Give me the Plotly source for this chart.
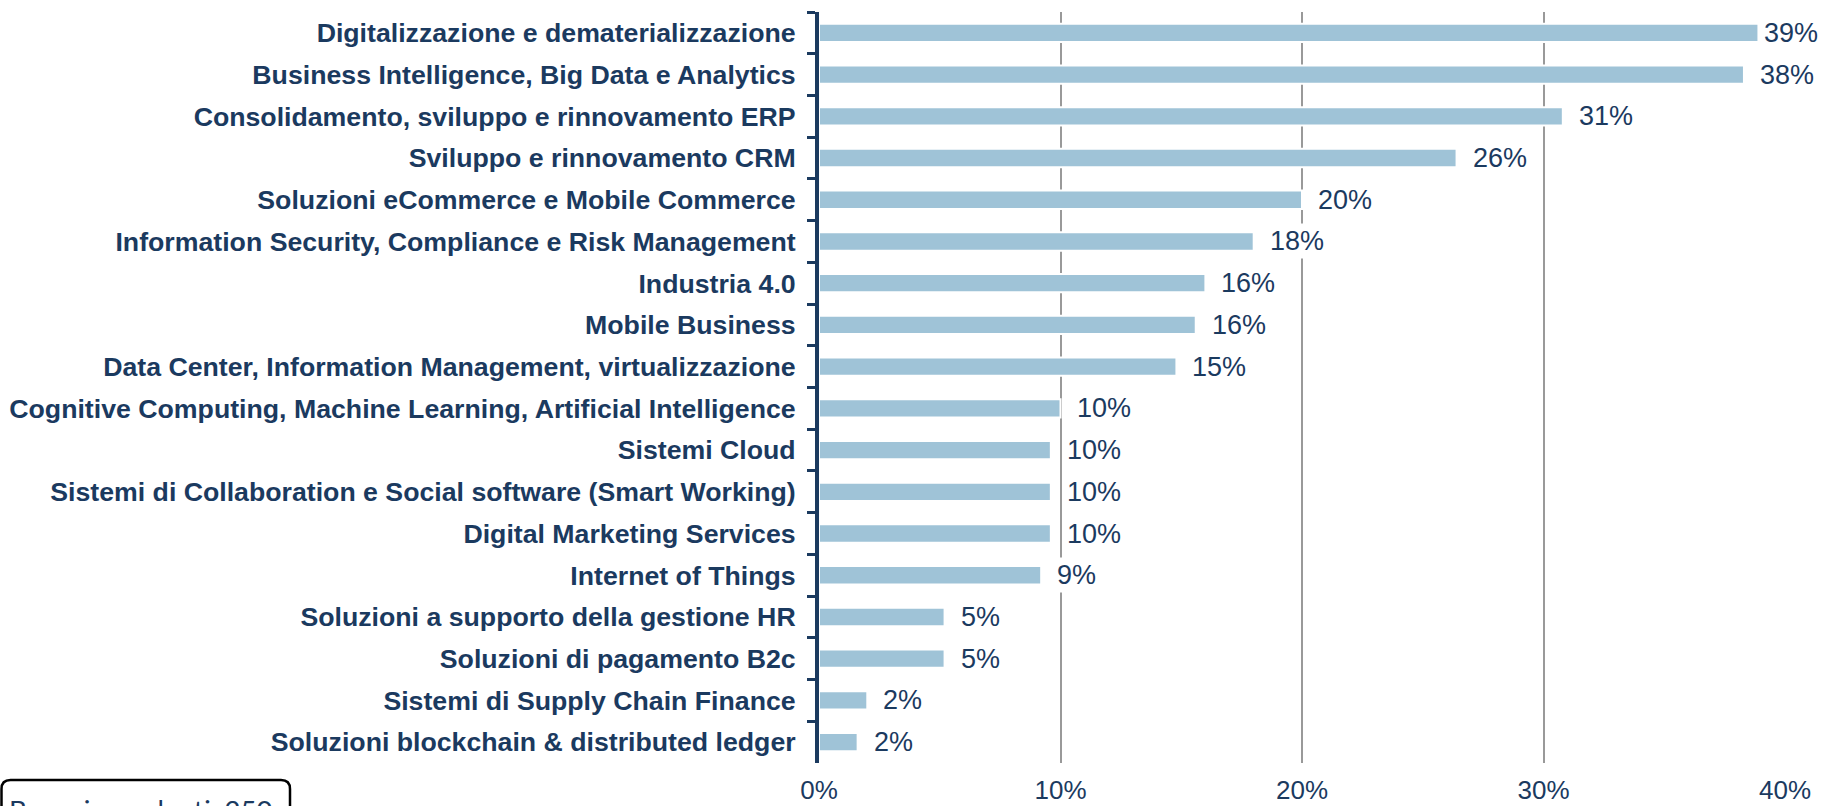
import plotly.graph_objects as go

categories = [
    "Digitalizzazione e dematerializzazione",
    "Business Intelligence, Big Data e Analytics",
    "Consolidamento, sviluppo e rinnovamento ERP",
    "Sviluppo e rinnovamento CRM",
    "Soluzioni eCommerce e Mobile Commerce",
    "Information Security, Compliance e Risk Management",
    "Industria 4.0",
    "Mobile Business",
    "Data Center, Information Management, virtualizzazione",
    "Cognitive Computing, Machine Learning, Artificial Intelligence",
    "Sistemi Cloud",
    "Sistemi di Collaboration e Social software (Smart Working)",
    "Digital Marketing Services",
    "Internet of Things",
    "Soluzioni a supporto della gestione HR",
    "Soluzioni di pagamento B2c",
    "Sistemi di Supply Chain Finance",
    "Soluzioni blockchain & distributed ledger",
]
values = [0.389, 0.383, 0.308, 0.264, 0.200, 0.180, 0.160, 0.156, 0.148,
          0.100, 0.096, 0.096, 0.096, 0.092, 0.052, 0.052, 0.020, 0.016]
labels = ["39%", "38%", "31%", "26%", "20%", "18%", "16%", "16%", "15%",
          "10%", "10%", "10%", "10%", "9%", "5%", "5%", "2%", "2%"]
x_ticks = [0, 0.1, 0.2, 0.3, 0.4]
x_tick_labels = ["0%", "10%", "20%", "30%", "40%"]
note = "Base rispondenti: 250"

NAVY = "#1b3a5f"
BAR = "#9fc3d7"
FONT = "Liberation Sans, Arial"

fig = go.Figure()
fig.add_trace(go.Bar(
    x=values, y=categories, orientation="h",
    marker=dict(color=BAR, line=dict(color="white", width=2)),
    hoverinfo="skip",
))

for i, (v, c, t) in enumerate(zip(values, categories, labels)):
    fig.add_annotation(
        x=v, y=c, xref="x", yref="y", text=t, showarrow=False,
        xanchor="left", yanchor="middle", xshift=3 if i == 0 else 13,
        font=dict(family=FONT, size=27, color=NAVY),
        bgcolor="white", borderpad=2,
    )

W, H = 1827, 806
L, R, T, B = 819, 42, 12, 43
pw, ph = W - L - R, H - T - B

def px(xp):
    return (xp - L) / pw

def py(yp):
    return (H - B - yp) / ph

x0, x1 = px(1.5), px(290)
yt, yb = py(780), py(830)
rx, ry = 9 / pw, 9 / ph
path = (f"M {x0},{yb} L {x0},{yt - ry} Q {x0},{yt} {x0 + rx},{yt} "
        f"L {x1 - rx},{yt} Q {x1},{yt} {x1},{yt - ry} L {x1},{yb}")
fig.add_shape(type="path", path=path, xref="paper", yref="paper",
              line=dict(color="black", width=2.5), fillcolor="rgba(0,0,0,0)")
fig.add_annotation(
    x=px(7), y=py(809), xref="paper", yref="paper", text=note,
    showarrow=False, xanchor="left", yanchor="middle",
    font=dict(family="Lato, Open Sans", size=27.5, color=NAVY),
)

fig.update_layout(
    template="none",
    width=W, height=H,
    margin=dict(l=L, r=R, t=T, b=B, pad=0, autoexpand=False),
    plot_bgcolor="white", paper_bgcolor="white",
    bargap=0.56, showlegend=False,
    font=dict(family=FONT, color=NAVY),
)
fig.update_xaxes(
    automargin=False,
    range=[0, 0.4], tickvals=x_ticks, ticktext=x_tick_labels,
    showgrid=True, gridcolor="#999999", gridwidth=2,
    zeroline=False, showline=False, ticks="",
    tickfont=dict(size=26, color=NAVY, family=FONT), ticklabelstandoff=9,
)
fig.update_yaxes(
    automargin=False,
    autorange="reversed", showgrid=False, zeroline=False,
    showline=True, linecolor=NAVY, linewidth=4,
    ticks="outside", tickson="boundaries", ticklen=8, tickwidth=3,
    tickcolor=NAVY, ticklabelstandoff=14,
    tickfont=dict(size=26.7, color=NAVY, family=FONT, weight="bold"),
)

fig.write_html(
    "out.html",
    config={"displayModeBar": False},
    post_script="document.body.style.margin='0';document.body.style.overflow='hidden';",
)
